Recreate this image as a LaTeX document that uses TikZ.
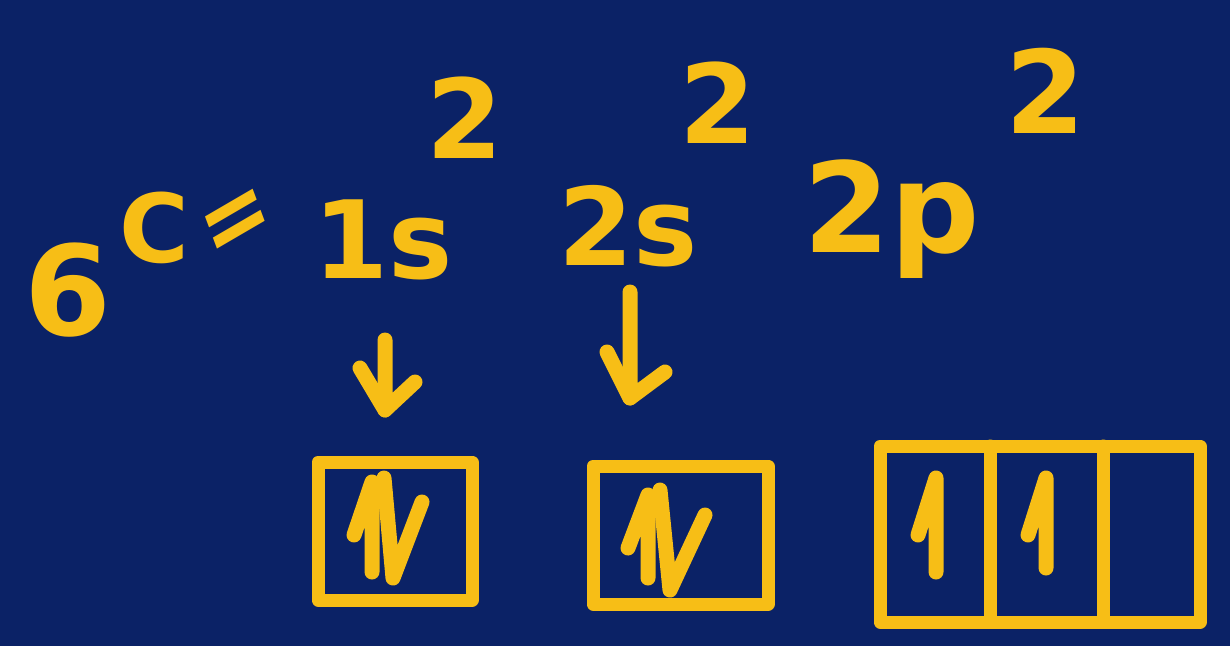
\documentclass[tikz,border=0pt]{standalone}
\usepackage{fontspec}
\setmainfont{DejaVu Sans}
\usetikzlibrary{arrows.meta}
\definecolor{bg}{HTML}{0B2266}
\definecolor{ink}{HTML}{F7BE16}
\tikzset{
  glyph/.style={text=ink, inner sep=0pt, anchor=base, font=\bfseries\fontsize{#1}{#1}\selectfont},
  pen/.style={draw=ink, line width=15pt, line cap=round, line join=round},
  thinpen/.style={draw=ink, line width=13pt, line cap=round, line join=round},
}
\begin{document}
\begin{tikzpicture}[x=1pt,y=-1pt]
\fill[bg] (0,0) rectangle (1230,646);
\useasboundingbox (0,0) rectangle (1230,646);
% formula
\node[glyph=125] (six) at (68,335) {6};
\node[glyph=95] (c) at (154,262) {C};
\node[glyph=105, xscale=0.8, rotate=25, anchor=center] (eq) at (238,226) {=};
\node[glyph=108] (s1) at (383,278) {1s};
\node[glyph=110] (e1) at (465,158) {2};
\node[glyph=108] (s2) at (628,265) {2s};
\node[glyph=110] (e2) at (718,143) {2};
\node[glyph=125] (p2) at (892,252) {2p};
\node[glyph=115] (e3) at (1045,133) {2};
% boxes
\coordinate (b1a) at (318,462); \coordinate (b1b) at (472,600);
\coordinate (b2a) at (593,466); \coordinate (b2b) at (768,604);
\coordinate (b3a) at (880,446); \coordinate (b3b) at (1200,622);
\draw[thinpen] (b1a) rectangle (b1b);
\draw[thinpen] (b2a) rectangle (b2b);
\draw[thinpen] (b3a) rectangle (b3b);
\draw[thinpen] (990,446) -- (990,622);
\draw[thinpen] (1103,446) -- (1103,622);
% arrows from subshells to boxes
\coordinate (a1t) at (385,340); \coordinate (a1b) at (385,410);
\coordinate (a2t) at (630,292); \coordinate (a2b) at (630,398);
\draw[pen] (a1t) -- (a1b) -- (415,382);
\draw[pen] (360,368) -- (a1b);
\draw[pen] (a2t) -- (a2b) -- (665,372);
\draw[pen] (607,352) -- (a2b);
% spins
\draw[pen] (354,535) -- (372,482) -- (372,572);
\draw[pen] (384,478) -- (393,578) -- (422,502);
\draw[pen] (628,548) -- (648,495) -- (648,578);
\draw[pen] (660,490) -- (670,590) -- (705,515);
\draw[pen] (918,535) -- (936,478) -- (936,572);
\draw[pen] (1028,535) -- (1046,478) -- (1046,568);
\end{tikzpicture}
\end{document}
